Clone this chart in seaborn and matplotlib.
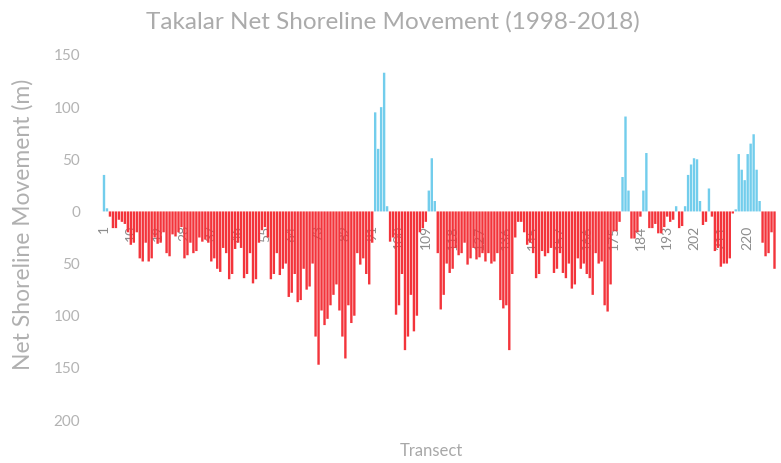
import numpy as np
import pandas as pd
import matplotlib
matplotlib.use("Agg")
import matplotlib.pyplot as plt
import matplotlib.ticker as mticker
import seaborn as sns

# ---------------------------------------------------------------
# Data (net shoreline movement in metres)
# ---------------------------------------------------------------
TITLE = "Takalar Net Shoreline Movement (1998-2018)"

# transect IDs: 1..150, then numbering resumes at 154
transect_ids = list(range(1, 151)) + list(range(154, 230))

nsm = [
    35, 3, -5, -16, -16, -8, -10, -12, -20, -32,
    -30, -20, -45, -48, -30, -48, -45, -25, -31, -30,
    -20, -40, -43, -22, -24, -20, -15, -45, -42, -30,
    -40, -38, -25, -29, -27, -30, -48, -45, -55, -58,
    -35, -40, -65, -60, -36, -30, -35, -64, -60, -40,
    -69, -65, -30, -18, -15, -25, -65, -60, -40, -61,
    -55, -50, -82, -78, -60, -87, -85, -55, -75, -72,
    -50, -120, -147, -95, -109, -103, -90, -80, -70, -95,
    -120, -141, -90, -107, -100, -40, -51, -45, -60, -70,
    -30, 95, 60, 100, 133, 5, -29, -25, -99, -90,
    -60, -133, -120, -80, -115, -100, -20, -16, -10, 20,
    51, 10, -40, -94, -80, -50, -59, -55, -35, -42,
    -40, -30, -51, -45, -35, -46, -44, -40, -48, -40,
    -50, -48, -40, -85, -93, -90, -133, -60, -25, -10,
    -10, -20, -32, -30, -40, -64, -60, -38, -43, -40,
    -35, -59, -55, -40, -59, -64, -50, -74, -70, -45,
    -55, -50, -60, -64, -80, -40, -50, -48, -90, -96,
    -70, -19, -19, -10, 33, 91, 20, -26, -26, -20,
    -5, 20, 56, -16, -16, -12, -21, -21, -15, -5,
    -10, -8, 5, -16, -14, 5, 35, 45, 51, 50,
    10, -13, -10, 22, -5, -38, -35, -53, -50, -50,
    -45, -2, 2, 55, 40, 30, 55, 65, 74, 40,
    10, -30, -43, -40, -20, -55,
]

y_ticks = [150, 100, 50, 0, -50, -100, -150, -200]

RED = "#F3343B"
BLUE = "#72CDEC"

df = pd.DataFrame({"transect": [str(t) for t in transect_ids], "nsm": nsm})
df["dir"] = np.where(df["nsm"] >= 0, "accretion", "erosion")

# ---------------------------------------------------------------
# Plot
# ---------------------------------------------------------------
sns.set_theme(style="white")
plt.rcParams["font.family"] = ["Lato", "DejaVu Sans"]

PITCH = 2.98          # px per transect in the reference
X0 = 104              # px of first transect
left_px = 90
fig = plt.figure(figsize=(7.81, 4.63), dpi=100)
ax = fig.add_axes([left_px / 781, 1 - 420 / 463, 1 - left_px / 781, 365 / 463])

sns.barplot(data=df, x="transect", y="nsm", hue="dir",
            palette={"accretion": BLUE, "erosion": RED},
            dodge=False, width=0.8, legend=False, saturation=1, ax=ax)
for p in ax.patches:
    p.set_snap(False)
    p.set_linewidth(0)

ax.set_xlim((left_px - X0) / PITCH, (781 - X0) / PITCH)
ax.set_ylim(-200, 150)
ax.set_yticks(y_ticks)
ax.yaxis.set_major_formatter(mticker.FuncFormatter(lambda v, p: f"{abs(v):.0f}"))

pos = list(range(0, 220, 9))
ax.set_xticks(pos)
ax.set_xticklabels([str(transect_ids[i]) for i in pos])

ax.spines["bottom"].set_position(("data", 0))
for s in ax.spines.values():
    s.set_visible(False)
ax.tick_params(axis="x", length=0, pad=10, labelsize=10, colors="#8C8C8C",
               labelrotation=90)
ax.tick_params(axis="y", length=0, pad=7, labelsize=11, colors="#B3B3B3")
ax.set_xlabel("")
ax.set_ylabel("")

fig.text(0.503, 0.952, TITLE, ha="center", va="center", fontsize=17.5,
         color="#ABABAB")
fig.text(0.029, 0.515, "Net Shoreline Movement (m)", rotation=90,
         ha="center", va="center", fontsize=16.5, color="#B0B0B0")
fig.text(0.552, 0.025, "Transect", ha="center", va="center", fontsize=12,
         color="#A8A8A8")

fig.savefig("out.png", dpi=100)
